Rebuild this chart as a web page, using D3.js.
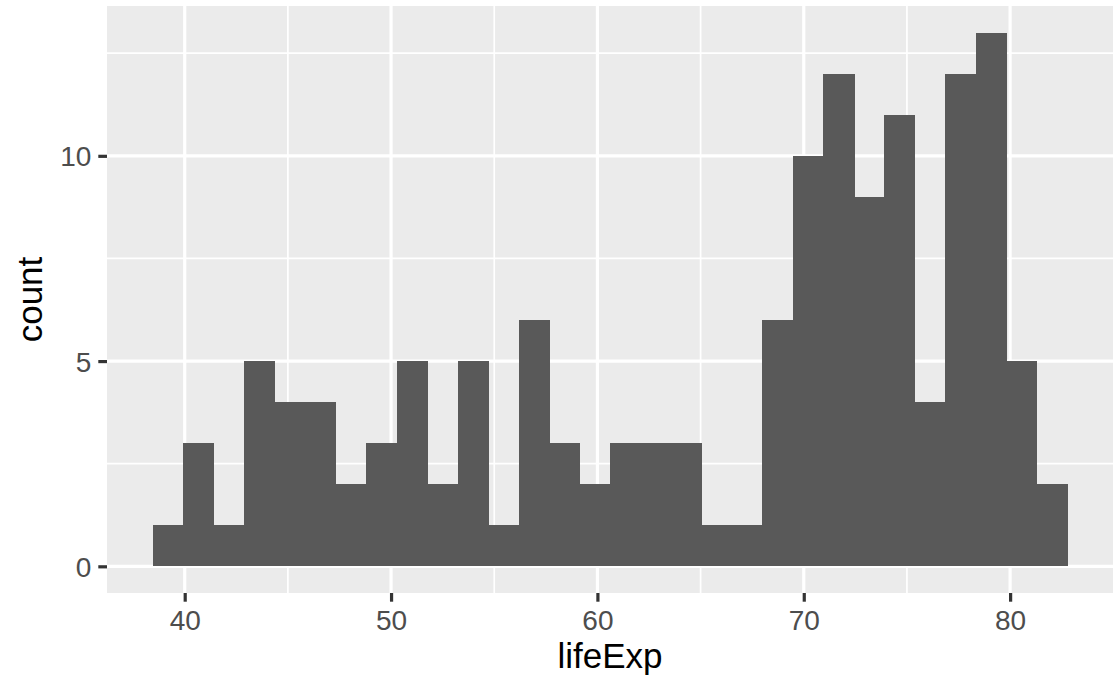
<!DOCTYPE html>
<html>
<head>
<meta charset="utf-8">
<script src="https://cdn.jsdelivr.net/npm/d3@7"></script>
<style>
  html, body { margin: 0; padding: 0; background: #ffffff; }
  svg { display: block; font-family: "Liberation Sans", Arial, Helvetica, sans-serif; }
</style>
</head>
<body>
<svg id="chart" width="1119" height="677"></svg>
<script>
// ---- data ----
const binEdges = [38.45, 39.93, 41.40, 42.88, 44.36, 45.84, 47.31, 48.79, 50.27, 51.75,
                  53.22, 54.70, 56.18, 57.66, 59.13, 60.61, 62.09, 63.56, 65.04, 66.52,
                  68.00, 69.47, 70.95, 72.43, 73.91, 75.38, 76.86, 78.34, 79.81, 81.29, 82.77];
const counts   = [1, 3, 1, 5, 4, 4, 2, 3, 5, 2,
                  5, 1, 6, 3, 2, 3, 3, 3, 1, 1,
                  6, 10, 12, 9, 11, 4, 12, 13, 5, 2];
const xTicks = [40, 50, 60, 70, 80];
const xMinor = [35, 45, 55, 65, 75, 85];
const yTicks = [0, 5, 10];
const yMinor = [2.5, 7.5, 12.5];
const xTitle = "lifeExp";
const yTitle = "count";

// ---- layout ----
const panel = { left: 107, top: 6, right: 1113, bottom: 593 };
const svg = d3.select("#chart");

const xMin = binEdges[0], xMax = binEdges[binEdges.length - 1];
const xPad = (xMax - xMin) * 0.05;
const x = d3.scaleLinear().domain([xMin - xPad, xMax + xPad]).range([panel.left, panel.right]);
const yMax = d3.max(counts);
const yPad = yMax * 0.05;
const y = d3.scaleLinear().domain([-yPad, yMax + yPad]).range([panel.bottom, panel.top]);

const bins = counts.map((c, i) => ({ x0: binEdges[i], x1: binEdges[i + 1], count: c }));

// panel background
svg.append("rect")
  .attr("x", panel.left).attr("y", panel.top)
  .attr("width", panel.right - panel.left).attr("height", panel.bottom - panel.top)
  .attr("fill", "#EBEBEB");

const grid = svg.append("g");
const inX = v => x(v) >= panel.left && x(v) <= panel.right;
// minor grid
grid.selectAll("line.xminor").data(xMinor.filter(inX)).join("line")
  .attr("x1", d => x(d)).attr("x2", d => x(d))
  .attr("y1", panel.top).attr("y2", panel.bottom)
  .attr("stroke", "#ffffff").attr("stroke-width", 1.7);
grid.selectAll("line.yminor").data(yMinor).join("line")
  .attr("y1", d => y(d)).attr("y2", d => y(d))
  .attr("x1", panel.left).attr("x2", panel.right)
  .attr("stroke", "#ffffff").attr("stroke-width", 1.7);
// major grid
grid.selectAll("line.xmajor").data(xTicks).join("line")
  .attr("x1", d => x(d)).attr("x2", d => x(d))
  .attr("y1", panel.top).attr("y2", panel.bottom)
  .attr("stroke", "#ffffff").attr("stroke-width", 3.2);
grid.selectAll("line.ymajor").data(yTicks).join("line")
  .attr("y1", d => y(d)).attr("y2", d => y(d))
  .attr("x1", panel.left).attr("x2", panel.right)
  .attr("stroke", "#ffffff").attr("stroke-width", 3.2);

// bars
svg.append("g").attr("shape-rendering", "crispEdges")
  .selectAll("rect").data(bins).join("rect")
  .attr("x", d => x(d.x0))
  .attr("width", d => x(d.x1) - x(d.x0) + 0.6)
  .attr("y", d => y(d.count))
  .attr("height", d => y(0) - y(d.count))
  .attr("fill", "#595959");

// x axis
const xAxis = d3.axisBottom(x).tickValues(xTicks).tickSize(8.7).tickPadding(7).tickFormat(d3.format("d"));
const gx = svg.append("g").attr("transform", `translate(0,${panel.bottom})`).call(xAxis);
gx.select(".domain").remove();
gx.selectAll(".tick line").attr("stroke", "#333333").attr("stroke-width", 3.2);
gx.selectAll(".tick text").attr("fill", "#4D4D4D").attr("font-size", 28)
  .attr("font-family", "Liberation Sans, Arial, sans-serif")
  .attr("dy", null).attr("y", 37);

// y axis
const yAxis = d3.axisLeft(y).tickValues(yTicks).tickSize(8.7).tickPadding(7).tickFormat(d3.format("d"));
const gy = svg.append("g").attr("transform", `translate(${panel.left},0)`).call(yAxis);
gy.select(".domain").remove();
gy.selectAll(".tick line").attr("stroke", "#333333").attr("stroke-width", 3.2);
gy.selectAll(".tick text").attr("fill", "#4D4D4D").attr("font-size", 28)
  .attr("font-family", "Liberation Sans, Arial, sans-serif")
  .attr("dy", "0.36em");

// axis titles
svg.append("text")
  .attr("x", (panel.left + panel.right) / 2).attr("y", 667.5)
  .attr("text-anchor", "middle").attr("font-size", 35).attr("fill", "#000000")
  .text(xTitle);
svg.append("text")
  .attr("transform", `translate(41.5,${(panel.top + panel.bottom) / 2}) rotate(-90)`)
  .attr("text-anchor", "middle").attr("font-size", 35).attr("fill", "#000000")
  .text(yTitle);
</script>
</body>
</html>
